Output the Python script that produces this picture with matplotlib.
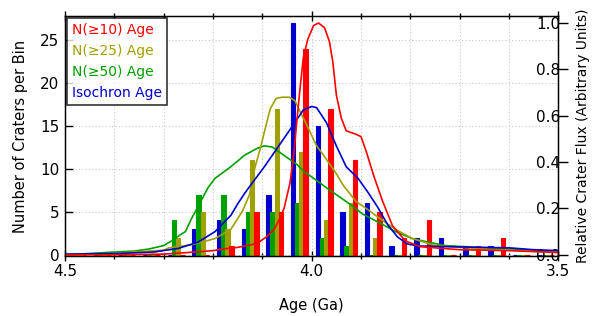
import numpy as np
import matplotlib
matplotlib.use("Agg")
import matplotlib.pyplot as plt
from matplotlib.ticker import MultipleLocator, FixedLocator

# histogram bins (Ga, bin centres) and counts per bin
bin_age = [4.475, 4.425, 4.375, 4.325, 4.275, 4.225, 4.175, 4.125, 4.075, 4.025,
           3.975, 3.925, 3.875, 3.825, 3.775, 3.725, 3.675, 3.625, 3.575, 3.525]
n_iso = [0, 0, 0, 0, 0, 3, 4, 3, 7, 27, 15, 5, 6, 1, 2, 2, 1, 1, 0, 0]
n_50 = [0, 0, 0, 0, 4, 7, 7, 5, 5, 6, 2, 1, 0, 0, 0, 0, 0, 0, 0, 0]
n_25 = [0, 0, 0, 0, 2, 5, 3, 11, 17, 12, 4, 6, 2, 0, 0, 0, 0, 0, 0, 0]
n_10 = [0, 0, 0, 0, 0, 0, 1, 5, 5, 24, 17, 11, 5, 2, 4, 0, 1, 2, 0, 0]

# relative crater flux curves (age, value)
red_age = [4.50, 4.40, 4.30, 4.25, 4.20, 4.176, 4.15, 4.13, 4.11, 4.09, 4.076, 4.064,
           4.056, 4.044, 4.036, 4.03, 4.024, 4.017, 4.008, 3.996, 3.986, 3.974, 3.964,
           3.957, 3.95, 3.94, 3.93, 3.91, 3.90, 3.89, 3.874, 3.856, 3.836, 3.81, 3.78,
           3.70, 3.60, 3.50]
red_flux = [0.0, 0.0, 0.003, 0.01, 0.018, 0.026, 0.032, 0.04, 0.05, 0.08, 0.11, 0.16,
            0.20, 0.31, 0.44, 0.58, 0.71, 0.85, 0.93, 0.99, 1.0, 0.98, 0.92,
            0.83, 0.69, 0.59, 0.535, 0.52, 0.51, 0.45, 0.34, 0.23, 0.125, 0.06, 0.035,
            0.022, 0.018, 0.01]

blue_age = [4.50, 4.40, 4.32, 4.27, 4.23, 4.196, 4.164, 4.15, 4.136, 4.124, 4.096, 4.07,
            4.044, 4.017, 4.0, 3.99, 3.97, 3.95, 3.93, 3.906, 3.886, 3.866, 3.846, 3.826,
            3.806, 3.784, 3.70, 3.60, 3.55, 3.50]
blue_flux = [0.003, 0.005, 0.012, 0.028, 0.055, 0.10, 0.17, 0.22, 0.265, 0.30, 0.38, 0.46,
             0.54, 0.625, 0.64, 0.635, 0.57, 0.47, 0.38, 0.33, 0.27, 0.205, 0.13, 0.077,
             0.047, 0.038, 0.034, 0.03, 0.022, 0.018]

olive_age = [4.50, 4.40, 4.36, 4.30, 4.29, 4.244, 4.196, 4.164, 4.14, 4.126, 4.116, 4.104,
             4.096, 4.084, 4.072, 4.06, 4.045, 4.034, 4.024, 4.01, 3.99, 3.976, 3.95,
             3.936, 3.91, 3.896, 3.864, 3.83, 3.796, 3.75, 3.65, 3.50]
olive_flux = [0.0, 0.005, 0.012, 0.02, 0.03, 0.043, 0.07, 0.11, 0.19, 0.26, 0.37, 0.46,
              0.53, 0.63, 0.675, 0.68, 0.68, 0.665, 0.62, 0.56, 0.47, 0.43, 0.35,
              0.30, 0.23, 0.21, 0.16, 0.11, 0.07, 0.04, 0.025, 0.01]

green_age = [4.50, 4.40, 4.36, 4.33, 4.30, 4.284, 4.264, 4.256, 4.244, 4.23, 4.21, 4.196,
             4.164, 4.136, 4.11, 4.096, 4.08, 4.05, 4.03, 4.016, 3.996, 3.964, 3.93,
             3.896, 3.864, 3.83, 3.796, 3.764, 3.73, 3.65, 3.55, 3.50]
green_flux = [0.0, 0.012, 0.016, 0.025, 0.04, 0.06, 0.09, 0.10, 0.155, 0.21, 0.29, 0.33,
              0.38, 0.43, 0.46, 0.47, 0.465, 0.42, 0.39, 0.36, 0.33, 0.28, 0.23,
              0.175, 0.14, 0.10, 0.07, 0.055, 0.04, 0.03, 0.02, 0.01]

RED = "#ff0000"
BLUE = "#0000cc"
GREEN = "#00a000"
OLIVE = "#a0a000"

fig = plt.figure(figsize=(5.92, 3.16), dpi=100)
ax = fig.add_axes([0.110, 0.190, 0.833, 0.759])

# bars: blue, green, olive, red from old to young inside each bin
w = 0.009
step = 0.0085
ages = np.array(bin_age)
for k, (vals, col) in enumerate([(n_iso, BLUE), (n_50, GREEN), (n_25, OLIVE), (n_10, RED)]):
    ax.bar(ages + (1.5 - k) * step, vals, width=w, color=col, edgecolor=col,
           linewidth=0.8, zorder=2)

ax.set_xlim(4.5, 3.5)
ax.set_ylim(-0.15, 27.8)
ax.xaxis.set_major_locator(FixedLocator([4.5, 4.0, 3.5]))
ax.xaxis.set_minor_locator(MultipleLocator(0.1))
ax.set_xticklabels(["4.5", "4.0", "3.5"])
ax.yaxis.set_major_locator(MultipleLocator(5))
ax.tick_params(axis="x", which="major", direction="inout", length=7, width=1,
               top=True, labelsize=11, pad=2)
ax.tick_params(axis="x", which="minor", direction="inout", length=4, width=1, top=True)
ax.tick_params(axis="y", direction="in", length=6, width=1, labelsize=11, pad=4)
ax.grid(True, which="both", axis="x", color="#c8c8c8", linestyle=(0, (1, 2)), linewidth=0.8)
ax.grid(True, which="major", axis="y", color="#c8c8c8", linestyle=(0, (1, 2)), linewidth=0.8)
ax.set_axisbelow(True)
ax.set_xlabel("Age (Ga)", fontsize=10.5, labelpad=14)
ax.set_ylabel("Number of Craters per Bin", fontsize=10.5, labelpad=9)

ax2 = ax.twinx()
ax2.plot(green_age, green_flux, color=GREEN, linewidth=1.2)
ax2.plot(olive_age, olive_flux, color=OLIVE, linewidth=1.2)
ax2.plot(blue_age, blue_flux, color=BLUE, linewidth=1.2)
ax2.plot(red_age, red_flux, color=RED, linewidth=1.2)
ax2.set_ylim(-0.005, 1.03)
ax2.yaxis.set_major_locator(FixedLocator([0.0, 0.2, 0.4, 0.6, 0.8, 1.0]))
ax2.set_yticklabels(["0.0", "0.2", "0.4", "0.6", "0.8", "1.0"])
# labels sit inside the frame, ticks point outward
ax2.tick_params(axis="y", direction="out", length=7, width=1, labelsize=11, pad=-23)
ax2.set_ylabel("Relative Crater Flux (Arbitrary Units)", fontsize=10)
ax2.yaxis.set_label_coords(1.036, 0.5)

handles = [plt.Line2D([], [], linestyle="none") for _ in range(4)]
leg = ax2.legend(handles, ["N(≥10) Age", "N(≥25) Age", "N(≥50) Age", "Isochron Age"],
                 loc="upper left", handlelength=0, handletextpad=0, fontsize=10,
                 frameon=True, fancybox=False, borderaxespad=0.15, borderpad=0.35,
                 labelspacing=0.5)
leg.get_frame().set_edgecolor("black")
leg.get_frame().set_linewidth(1.2)
for txt, col in zip(leg.get_texts(), [RED, OLIVE, GREEN, BLUE]):
    txt.set_color(col)

for sp in ax.spines.values():
    sp.set_linewidth(1)

fig.savefig("out.png", dpi=100)
